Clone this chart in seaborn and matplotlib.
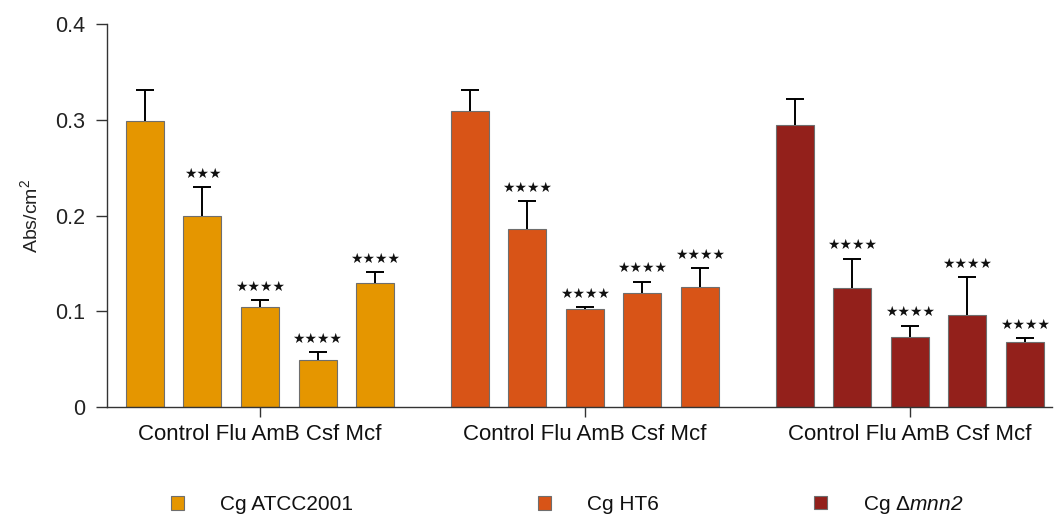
import numpy as np
import pandas as pd
import matplotlib
matplotlib.use("Agg")
import matplotlib.pyplot as plt
import seaborn as sns

# Strains, treatments and measured biofilm absorbance (mean and upper SD)
strains = ["Cg ATCC2001", "Cg HT6", r"Cg $\mathsf{\Delta}\mathit{mnn2}$"]
treatments = ["Control", "Flu", "AmB", "Csf", "Mcf"]
abs_atcc = [0.299, 0.199, 0.104, 0.049, 0.129]
abs_ht6 = [0.309, 0.186, 0.102, 0.119, 0.125]
abs_mnn2 = [0.295, 0.124, 0.073, 0.096, 0.068]
sd_atcc = [0.032, 0.031, 0.008, 0.008, 0.012]
sd_ht6 = [0.022, 0.029, 0.002, 0.012, 0.020]
sd_mnn2 = [0.027, 0.031, 0.012, 0.040, 0.004]
sig_atcc = ["", "***", "****", "****", "****"]
sig_ht6 = ["", "****", "****", "****", "****"]
sig_mnn2 = ["", "****", "****", "****", "****"]
group_label = "Control Flu AmB Csf Mcf"
colors = ["#E59600", "#D85417", "#93201B"]

sns.set_theme(style="white")
plt.rcParams["font.family"] = ["Liberation Sans", "DejaVu Sans"]
plt.rcParams["mathtext.fontset"] = "custom"
plt.rcParams["mathtext.rm"] = "Liberation Sans:italic"
plt.rcParams["mathtext.it"] = "Liberation Sans:italic"
plt.rcParams["mathtext.sf"] = "Liberation Sans"

# Bars within a group are one unit apart; groups are spaced wider apart
group_step = 5.64
rows = []
for g, (s, vals, sds, sigs) in enumerate(zip(
        strains, [abs_atcc, abs_ht6, abs_mnn2],
        [sd_atcc, sd_ht6, sd_mnn2], [sig_atcc, sig_ht6, sig_mnn2])):
    for i, t in enumerate(treatments):
        rows.append({"strain": s, "treatment": t, "pos": g * group_step + i - 2,
                     "value": vals[i], "sd": sds[i], "sig": sigs[i]})
df = pd.DataFrame(rows)

fig = plt.figure(figsize=(10.55, 5.18), dpi=100)
ax = fig.add_axes([107 / 1055, 1 - 407 / 518, (1052 - 107) / 1055, (407 - 24) / 518])

sns.barplot(data=df, x="pos", y="value", hue="strain", palette=colors,
            native_scale=True, dodge=False, width=0.66, errorbar=None,
            edgecolor="#6e6e6e", linewidth=0.8, saturation=1, ax=ax)

# Upper-only error bars (the cap at the bar top is hidden)
_, caps, _ = ax.errorbar(df["pos"], df["value"],
                         yerr=[np.zeros(len(df)), df["sd"]],
                         fmt="none", ecolor="black", elinewidth=1.4,
                         capsize=6.5, capthick=1.4, zorder=3)
caps[0].set_visible(False)

# Significance stars above each error bar, drawn as star glyphs
for _, r in df.iterrows():
    if r["sig"]:
        stars = r["sig"].replace("*", "\u2605")
        ax.annotate(stars, (r["pos"], r["value"] + r["sd"]),
                    xytext=(0, 4.5), textcoords="offset points",
                    ha="center", va="bottom", fontsize=10, color="#111111",
                    family=["DejaVu Sans"])

ax.set_ylim(0, 0.4)
ax.set_xlim(-2.656, 13.75)
ax.set_yticks([0, 0.1, 0.2, 0.3, 0.4])
ax.set_yticklabels(["0", "0.1", "0.2", "0.3", "0.4"])
ax.set_xticks([g * group_step for g in range(len(strains))])
ax.set_xticklabels([group_label] * len(strains))
ax.set_xlabel("")
ax.set_ylabel(r"Abs/cm$^{\mathsf{2}}$", fontsize=14, labelpad=10, color="#222222")

for side in ["top", "right"]:
    ax.spines[side].set_visible(False)
for side in ["left", "bottom"]:
    ax.spines[side].set_color("#333333")
    ax.spines[side].set_linewidth(1.0)
ax.tick_params(axis="y", length=8, width=1.0, color="#333333", labelsize=15.5,
               pad=8, left=True, direction="out", labelcolor="#222222")
ax.tick_params(axis="x", length=7, width=1.0, color="#333333", labelsize=16,
               pad=5, bottom=True, direction="out", labelcolor="#111111")

# One legend entry per strain, spread along the bottom
handles, labels = ax.get_legend_handles_labels()
ax.get_legend().remove()
legend_x = [171, 538, 814]
for h, lab, lx in zip(handles, labels, legend_x):
    leg = fig.legend([h], [lab], loc="center left",
                     bbox_to_anchor=(lx / 1055, 1 - 505 / 518),
                     frameon=False, handlelength=0.62, handleheight=0.62,
                     handletextpad=1.75, borderpad=0, borderaxespad=0,
                     prop={"family": ["Liberation Sans"], "size": 15})
    for t in leg.get_texts():
        t.set_color("#111111")

fig.savefig("out.png", dpi=100)
